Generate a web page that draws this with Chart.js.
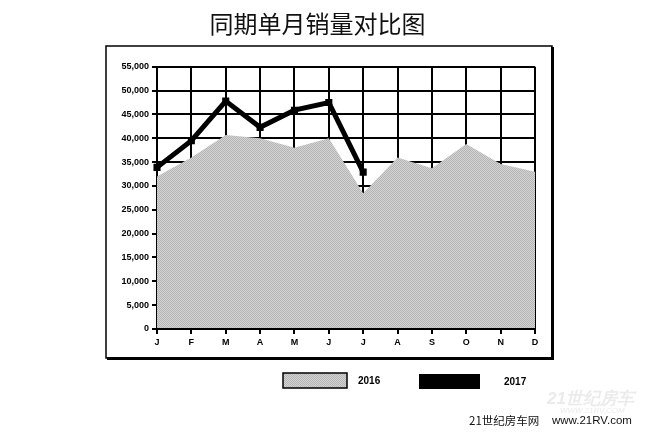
<!DOCTYPE html>
<html>
<head>
<meta charset="utf-8">
<script src="https://cdn.jsdelivr.net/npm/chart.js@4/dist/chart.umd.min.js"></script>
<style>
  html, body { margin: 0; padding: 0; background: #fff; }
  #wrap { position: relative; width: 645px; height: 439px; }
</style>
</head>
<body>
<div id="wrap"><canvas id="chart1" width="645" height="439"></canvas></div>
<script>
// dados
const months = ['J', 'F', 'M', 'A', 'M', 'J', 'J', 'A', 'S', 'O', 'N', 'D'];
const sales2016 = [32000, 36000, 40700, 40000, 38000, 40000, 28500, 36000, 33700, 38800, 34600, 33000];
const sales2017 = [33900, 39500, 47800, 42300, 45900, 47500, 32900];
const seriesNames = ['2016', '2017'];
const titleText = '同期单月销量对比图';
const yMax = 55000;
const yStep = 5000;

// padrão pontilhado cinza para a área de 2016
function dotPattern(ctx) {
  const c = document.createElement('canvas');
  c.width = 2; c.height = 2;
  const p = c.getContext('2d');
  p.fillStyle = '#d4d4d4';
  p.fillRect(0, 0, 2, 2);
  p.fillStyle = '#b4b4b4';
  p.fillRect(0, 0, 1, 1);
  p.fillRect(1, 1, 1, 1);
  return ctx.createPattern(c, 'repeat');
}

// moldura, legenda e marca d'água
const decorPlugin = {
  id: 'decor',
  beforeDraw(chart) {
    const ctx = chart.ctx;
    ctx.save();
    ctx.fillStyle = '#fff';
    ctx.fillRect(0, 0, chart.width, chart.height);
    ctx.restore();
  },
  afterDatasetsDraw(chart) {
    // linha do eixo x por cima da área
    const ctx = chart.ctx;
    const a = chart.chartArea;
    ctx.save();
    ctx.strokeStyle = '#000';
    ctx.lineWidth = 2;
    ctx.beginPath();
    ctx.moveTo(a.left, a.bottom);
    ctx.lineTo(a.right, a.bottom);
    ctx.stroke();
    ctx.restore();
  },
  afterDraw(chart) {
    const ctx = chart.ctx;
    ctx.save();
    // moldura com sombra
    ctx.strokeStyle = '#000';
    ctx.lineWidth = 1.5;
    ctx.strokeRect(106, 46, 446, 312);
    ctx.fillStyle = '#000';
    ctx.fillRect(551, 47, 3, 313);
    ctx.fillRect(107, 357, 447, 3);

    // legenda
    const ds = chart.data.datasets;
    ctx.fillStyle = ds[0].backgroundColor;
    ctx.fillRect(283, 373, 64, 15);
    ctx.lineWidth = 1.5;
    ctx.strokeRect(283, 373, 64, 15);
    ctx.fillStyle = ds[1].borderColor;
    ctx.fillRect(419, 374, 61, 15);
    ctx.fillStyle = '#000';
    ctx.font = 'bold 10px "Liberation Sans", Arial, sans-serif';
    ctx.textBaseline = 'middle';
    ctx.fillText(ds[0].label, 358, 381);
    ctx.fillText(ds[1].label, 504, 382);

    // marca d'água
    ctx.fillStyle = '#ebebeb';
    ctx.font = 'italic bold 17px "Liberation Sans", sans-serif';
    ctx.fillText('21世纪房车', 547, 399);
    ctx.font = 'italic 8px "Liberation Sans", sans-serif';
    ctx.fillText('WWW.21RV.COM', 560, 411);
    ctx.fillStyle = '#111';
    ctx.font = '11.5px "Noto Sans CJK SC", sans-serif';
    ctx.fillText('21世纪房车网', 469, 421);
    ctx.font = '11.5px "Liberation Sans", sans-serif';
    ctx.fillText('www.21RV.com', 552, 421);
    ctx.restore();
  }
};

const ctx = document.getElementById('chart1').getContext('2d');
const tickFont = { family: '"Liberation Sans", Arial, sans-serif', size: 9, weight: 'bold' };

window.chart1Instance = new Chart(ctx, {
  type: 'line',
  data: {
    labels: months,
    datasets: [{
      label: seriesNames[0],
      data: sales2016,
      backgroundColor: dotPattern(ctx),
      borderWidth: 0,
      pointRadius: 0,
      fill: 'origin',
      tension: 0,
      order: 2
    }, {
      label: seriesNames[1],
      data: sales2017,
      borderColor: '#000',
      backgroundColor: '#000',
      borderWidth: 5,
      pointStyle: 'rect',
      pointRadius: 5,
      pointBorderWidth: 0,
      fill: false,
      tension: 0,
      order: 1
    }]
  },
  options: {
    responsive: false,
    animation: false,
    layout: { padding: { left: 100, right: 110, top: 0, bottom: 85 } },
    plugins: {
      legend: { display: false },
      tooltip: { enabled: false },
      title: {
        display: true,
        text: titleText,
        color: '#111',
        font: { family: '"Noto Sans CJK SC", sans-serif', size: 24, weight: 'normal' },
        padding: { top: 9, bottom: 29 }
      }
    },
    scales: {
      x: {
        offset: false,
        grid: { color: '#000', lineWidth: 2, tickLength: 5, drawTicks: true },
        border: { display: true, color: '#000', width: 2 },
        ticks: { color: '#000', font: tickFont, padding: 3, maxRotation: 0, autoSkip: false },
        afterFit(scale) { scale.height = 25; }
      },
      y: {
        min: 0,
        max: yMax,
        grid: { color: '#000', lineWidth: 2, tickLength: 5 },
        border: { display: true, color: '#000', width: 2 },
        ticks: { stepSize: yStep, color: '#000', font: tickFont, padding: 3 },
        afterFit(scale) { scale.width = 57; }
      }
    }
  },
  plugins: [decorPlugin]
});
</script>
</body>
</html>
